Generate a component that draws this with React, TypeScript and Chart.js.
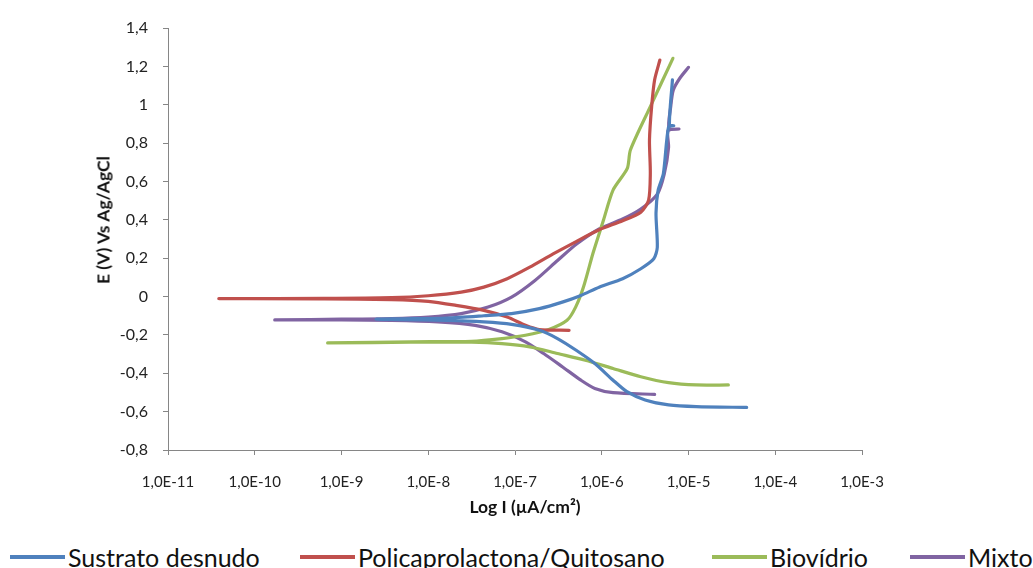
import React, { useEffect, useRef } from "react";
import { Chart, registerables } from "chart.js";

Chart.register(...registerables);

// Potentiodynamic polarization curves: current density (A/cm²) vs potential (V vs Ag/AgCl).
// Each curve runs from the cathodic end, through the corrosion potential, up the anodic branch.

const sustratoI = [
  4.68e-5, 1.23e-5, 5.89e-6, 3.16e-6, 1.95e-6, 1.35e-6, 8.32e-7, 5.07e-7, 3.09e-7, 1.91e-7, 9.12e-8, 4.37e-8,
  1.66e-8, 5.0e-9, 2.5e-9, 5.0e-9, 1.66e-8, 4.37e-8, 9.12e-8, 1.91e-7, 3.51e-7, 5.75e-7, 9.33e-7, 1.74e-6,
  2.82e-6, 3.98e-6, 4.37e-6, 4.22e-6, 4.47e-6, 5.13e-6, 5.89e-6, 6.76e-6, 6.03e-6, 6.53e-6,
];
const sustratoE = [
  -0.578, -0.574, -0.565, -0.539, -0.496, -0.436, -0.349, -0.28, -0.219, -0.176, -0.145, -0.132, -0.124, -0.12,
  -0.118, -0.116, -0.112, -0.1, -0.089, -0.063, -0.029, 0.006, 0.049, 0.093, 0.145, 0.197, 0.257, 0.435, 0.555,
  0.64, 0.885, 0.89, 0.895, 1.13,
];

const pclI = [
  4.2e-7, 1.9e-7, 1.32e-7, 8.13e-8, 4.37e-8, 2.09e-8, 1.0e-8, 3.8e-9, 6.3e-10, 3.85e-11, 6.3e-10, 3.8e-9, 1.0e-8,
  2.4e-8, 4.37e-8, 8.13e-8, 1.48e-7, 2.75e-7, 5.13e-7, 9.33e-7, 1.74e-6, 2.82e-6, 3.47e-6, 3.63e-6, 3.55e-6,
  3.76e-6, 4.07e-6, 4.68e-6,
];
const pclE = [
  -0.176, -0.172, -0.15, -0.107, -0.072, -0.046, -0.025, -0.016, -0.012, -0.011, -0.01, -0.006, 0.004, 0.023,
  0.049, 0.093, 0.153, 0.222, 0.288, 0.348, 0.395, 0.44, 0.503, 0.642, 0.816, 0.99, 1.13, 1.233,
];

const biovidrioI = [
  2.88e-5, 1.23e-5, 5.89e-6, 2.82e-6, 1.35e-6, 6.46e-7, 3.09e-7, 1.48e-7, 7.08e-8, 3.16e-8, 6.3e-9, 6.92e-10,
  6.3e-9, 3.16e-8, 7.08e-8, 1.32e-7, 2.45e-7, 3.98e-7, 5.0e-7, 6.17e-7, 7.94e-7, 1.05e-6, 1.35e-6, 1.97e-6,
  2.14e-6, 3.63e-6, 6.61e-6,
];
const biovidrioE = [
  -0.461, -0.461, -0.449, -0.418, -0.375, -0.332, -0.297, -0.262, -0.245, -0.238, -0.238, -0.242, -0.236, -0.233,
  -0.219, -0.202, -0.172, -0.124, -0.055, 0.051, 0.227, 0.4, 0.555, 0.668, 0.764, 0.99, 1.242,
];

const mixtoI = [
  4.07e-6, 1.35e-6, 8.32e-7, 5.75e-7, 3.51e-7, 2.14e-7, 1.32e-7, 7.08e-8, 3.47e-8, 1.29e-8, 3.8e-9, 1.0e-9,
  1.7e-10, 1.0e-9, 3.8e-9, 1.0e-8, 2.4e-8, 4.9e-8, 9.12e-8, 1.7e-7, 3.09e-7, 5.13e-7, 9.33e-7, 1.74e-6, 2.82e-6,
  4.37e-6, 5.25e-6, 5.89e-6, 5.82e-6, 7.76e-6, 5.96e-6, 6.24e-6, 6.68e-6, 7.94e-6, 1.0e-5,
];
const mixtoE = [
  -0.51, -0.501, -0.479, -0.436, -0.366, -0.297, -0.236, -0.184, -0.15, -0.132, -0.124, -0.122, -0.122, -0.118,
  -0.115, -0.107, -0.089, -0.055, -0.003, 0.084, 0.188, 0.274, 0.352, 0.404, 0.456, 0.534, 0.638, 0.777, 0.865,
  0.873, 0.878, 0.99, 1.077, 1.138, 1.195,
];

const seriesNames = ["Sustrato desnudo", "Policaprolactona/Quitosano", "Biovídrio", "Mixto"];
const seriesColors = ["#4F81BD", "#C0504D", "#9BBB59", "#8064A2"];
const decadeTicks = [1e-11, 1e-10, 1e-9, 1e-8, 1e-7, 1e-6, 1e-5, 1e-4, 1e-3];

const xTitle = "Log I (µA/cm²)";
const yTitle = "E (V) Vs Ag/AgCl";

const FONT = "Lato, 'Noto Sans', sans-serif";
const AXIS_GREY = "#868686";

const toPoints = (xs: number[], ys: number[]) => xs.map((x, i) => ({ x, y: ys[i] }));

export default function App() {
  const canvasRef = useRef<HTMLCanvasElement | null>(null);

  useEffect(() => {
    const canvas = canvasRef.current;
    if (!canvas) return;
    const curves = [
      toPoints(sustratoI, sustratoE),
      toPoints(pclI, pclE),
      toPoints(biovidrioI, biovidrioE),
      toPoints(mixtoI, mixtoE),
    ];
    const chart = new Chart(canvas, {
      type: "scatter",
      data: {
        datasets: curves.map((pts, i) => ({
          label: seriesNames[i],
          data: pts,
          showLine: true,
          borderColor: seriesColors[i],
          backgroundColor: seriesColors[i],
          borderWidth: 3.2,
          pointRadius: 0,
          tension: 0.25,
          borderCapStyle: "round" as const,
          borderJoinStyle: "round" as const,
        })),
      },
      options: {
        animation: false,
        responsive: false,
        devicePixelRatio: 1,
        layout: { padding: { top: 28, right: 171, bottom: 0, left: 0 } },
        plugins: { legend: { display: false }, tooltip: { enabled: false } },
        scales: {
          x: {
            type: "logarithmic",
            min: 1e-11,
            max: 1e-3,
            afterBuildTicks: (scale: any) => {
              scale.ticks = decadeTicks.map((v) => ({ value: v }));
            },
            afterFit: (scale: any) => {
              scale.height = 70;
            },
            grid: {
              drawOnChartArea: false,
              tickLength: 5,
              color: AXIS_GREY,
            },
            border: { color: AXIS_GREY, width: 1 },
            ticks: {
              padding: 18,
              maxRotation: 0,
              autoSkip: false,
              color: "#222",
              font: { family: FONT, size: 15 },
              callback: (v: any) => Number(v).toExponential(1).replace(".", ",").replace("e", "E"),
            },
          },
          y: {
            min: -0.8,
            max: 1.4,
            afterFit: (scale: any) => {
              scale.width = 168;
            },
            grid: {
              drawOnChartArea: false,
              tickLength: 5,
              color: AXIS_GREY,
            },
            border: { color: AXIS_GREY, width: 1 },
            ticks: {
              stepSize: 0.2,
              padding: 15,
              color: "#222",
              font: { family: FONT, size: 16 },
              callback: (v: any) => String(Math.round(Number(v) * 10) / 10).replace(".", ","),
            },
          },
        },
      },
    });
    return () => chart.destroy();
  }, []);

  return (
    <div style={{ position: "fixed", left: 0, top: 0, width: 1033, height: 568, background: "#fff", overflow: "hidden", fontFamily: FONT }}>
      <canvas ref={canvasRef} width={1033} height={520} style={{ position: "absolute", left: 0, top: 0, width: 1033, height: 520 }} />
      <div
        style={{
          position: "absolute",
          left: 103,
          top: 220,
          transform: "translate(-50%, -50%) rotate(-90deg)",
          whiteSpace: "nowrap",
          fontWeight: 700,
          fontSize: 17.5,
          color: "#111",
        }}
      >
        {yTitle}
      </div>
      <div
        style={{
          position: "absolute",
          left: 525,
          top: 506,
          transform: "translate(-50%, -50%)",
          whiteSpace: "nowrap",
          fontWeight: 700,
          fontSize: 17.5,
          color: "#111",
        }}
      >
        {xTitle}
      </div>
      {seriesNames.map((name, i) => (
        <div
          key={name}
          style={{
            position: "absolute",
            left: [10, 300, 712, 910][i],
            top: 557,
            transform: "translateY(-50%)",
            display: "flex",
            alignItems: "center",
            whiteSpace: "nowrap",
          }}
        >
          <div style={{ width: 55, height: 4, background: seriesColors[i], marginRight: 3 }} />
          <span style={{ fontSize: 25, color: "#111", lineHeight: "28px" }}>{name}</span>
        </div>
      ))}
    </div>
  );
}
